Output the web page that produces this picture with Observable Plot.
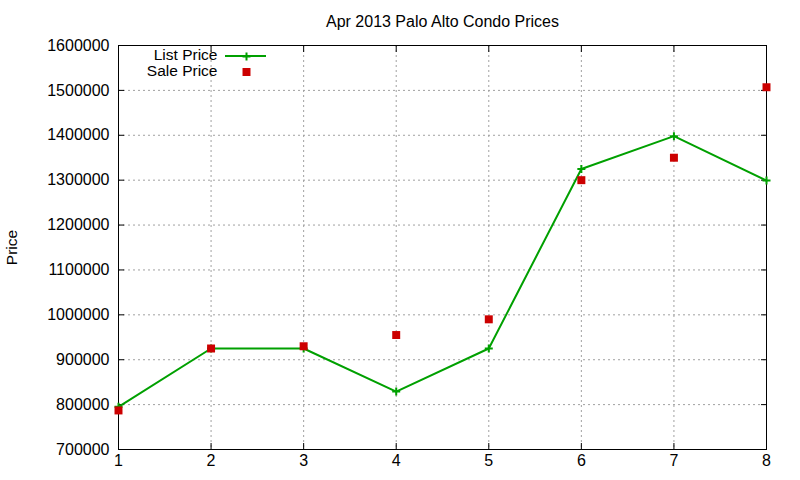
<!DOCTYPE html>
<html><head><meta charset="utf-8">
<script src="https://cdn.jsdelivr.net/npm/d3@7"></script>
<script src="https://cdn.jsdelivr.net/npm/@observablehq/plot@0.6"></script>
<style>body{margin:0;background:#fff;} #chart{width:800px;height:480px;}</style>
</head><body><div id="chart"></div>
<script>
const days = [1, 2, 3, 4, 5, 6, 7, 8];
const listPrice = [795000, 925000, 925000, 829000, 925000, 1325000, 1398000, 1299000];
const salePrice = [787000, 925000, 930000, 955000, 990000, 1300000, 1350000, 1507000];
const yTicks = [700000, 800000, 900000, 1000000, 1100000, 1200000, 1300000, 1400000, 1500000, 1600000];
const xTicks = [1, 2, 3, 4, 5, 6, 7, 8];
const title = "Apr 2013 Palo Alto Condo Prices";
const yLabel = "Price";
const seriesNames = ["List Price", "Sale Price"];
const colors = ["#00a000", "#cc0000"];

const listData = days.map((d, i) => ({x: d, y: listPrice[i]}));
const saleData = days.map((d, i) => ({x: d, y: salePrice[i]}));
const font = "'Liberation Sans', Arial, sans-serif";

const plot = Plot.plot({
  width: 800, height: 480,
  marginLeft: 118, marginRight: 34, marginTop: 45, marginBottom: 31,
  style: {fontFamily: font, fontSize: "16px", background: "#fff", color: "#000"},
  x: {domain: [1, 8], label: null},
  y: {domain: [700000, 1600000], label: null},
  marks: [
    Plot.gridX(xTicks, {stroke: "#a0a0a0", strokeOpacity: 1, strokeDasharray: "2,3"}),
    Plot.gridY(yTicks, {stroke: "#a0a0a0", strokeOpacity: 1, strokeDasharray: "2,3"}),
    Plot.axisX(xTicks, {anchor: "bottom", tickSize: 0, tickPadding: 5, tickFormat: d => String(d), label: null, fontSize: 16}),
    Plot.axisY(yTicks, {anchor: "left", tickSize: 0, tickPadding: 9, tickFormat: d => String(d), label: null, fontSize: 16}),
    Plot.axisY(yTicks, {anchor: "left", tickSize: -6, text: null, label: null}),
    Plot.axisY(yTicks, {anchor: "right", tickSize: -6, text: null, label: null}),
    Plot.axisX(xTicks, {anchor: "top", tickSize: -6, text: null, label: null}),
    Plot.axisX(xTicks, {anchor: "bottom", tickSize: -6, text: null, label: null}),
    Plot.frame({stroke: "#000", strokeWidth: 1}),
    Plot.line(listData, {x: "x", y: "y", stroke: colors[0], strokeWidth: 2}),
    Plot.dot(listData, {x: "x", y: "y", symbol: "plus", r: 2.7, stroke: colors[0], strokeWidth: 2}),
    Plot.dot(saleData, {x: "x", y: "y", symbol: "square", r: 4.5, fill: colors[1], stroke: "none"}),
    Plot.text([title], {frameAnchor: "top", lineAnchor: "middle", dy: -24, fontSize: 16, fill: "#000"}),
    Plot.text([yLabel], {frameAnchor: "left", lineAnchor: "middle", textAnchor: "middle", dx: -106, rotate: -90, fontSize: 15.5, fill: "#000"}),
    Plot.text([seriesNames[0]], {frameAnchor: "top-left", lineAnchor: "middle", dx: 99, dy: 10, textAnchor: "end", fontSize: 15.5, fill: "#000"}),
    Plot.text([seriesNames[1]], {frameAnchor: "top-left", lineAnchor: "middle", dx: 99, dy: 26, textAnchor: "end", fontSize: 15.5, fill: "#000"}),
    Plot.dot([0], {frameAnchor: "top-left", dx: 128, dy: 11, symbol: "plus", r: 2.7, stroke: colors[0], strokeWidth: 2}),
    Plot.dot([0], {frameAnchor: "top-left", dx: 128, dy: 26.5, symbol: "square", r: 4.5, fill: colors[1], stroke: "none"})
  ]
});
const svg = d3.select(plot);
svg.append("line").attr("x1", 225).attr("x2", 266).attr("y1", 56).attr("y2", 56)
  .attr("stroke", colors[0]).attr("stroke-width", 2);
document.getElementById("chart").appendChild(plot);
</script>
</body></html>
